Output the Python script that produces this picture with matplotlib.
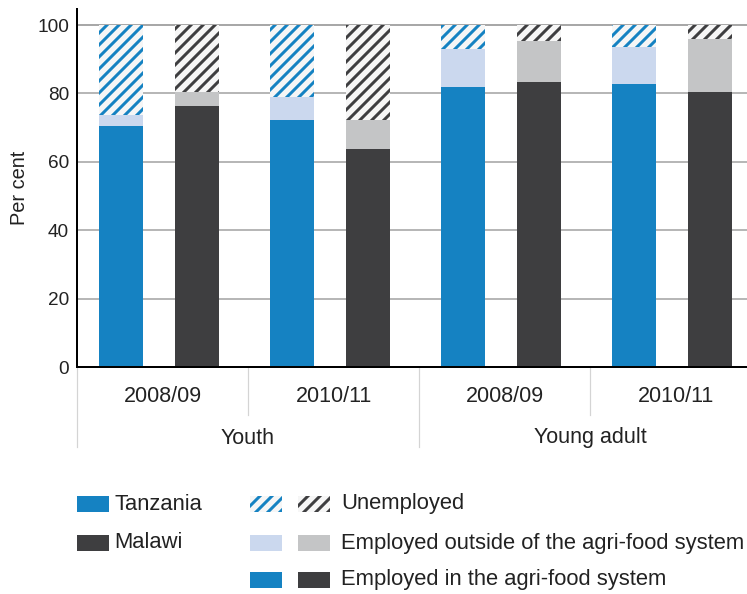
import matplotlib
matplotlib.use("Agg")
import matplotlib.pyplot as plt
from matplotlib.patches import Rectangle
import numpy as np

plt.rcParams['font.family'] = ['Liberation Sans', 'DejaVu Sans']
plt.rcParams['hatch.linewidth'] = 3.0

# ---- data ----
groups = ["Youth", "Young adult"]
periods = ["2008/09", "2010/11", "2008/09", "2010/11"]
countries = ["Tanzania", "Malawi"]
# per period (Youth 08/09, Youth 10/11, YA 08/09, YA 10/11)
tz_agri = [70.5, 72.2, 81.9, 82.7]
tz_outside = [3.2, 6.7, 11.1, 10.9]
mw_agri = [76.3, 63.7, 83.3, 80.4]
mw_outside = [4.1, 8.5, 12.0, 15.5]
tz_unemp = [100 - a - o for a, o in zip(tz_agri, tz_outside)]
mw_unemp = [100 - a - o for a, o in zip(mw_agri, mw_outside)]
yticks = [0, 20, 40, 60, 80, 100]

# ---- colors ----
TZ = "#1582c2"
TZ_LIGHT = "#cbd8ee"
MW = "#3e3e40"
MW_LIGHT = "#c4c5c6"
HATCH_BG = "#f6f6f6"
TXT = "#222222"

DPI = 72
W, H = 747, 594
fig = plt.figure(figsize=(W / DPI, H / DPI), dpi=DPI)

ax_left, ax_bottom = 77, 594 - 367
ax_top = 9
ax = fig.add_axes([ax_left / W, ax_bottom / H, (W - ax_left) / W, (367 - ax_top) / H])

x = np.arange(len(periods))
tz_x = x + 0.257
mw_x = x + 0.70
bw = 0.257

def stack(xs, agri, outside, unemp, c, cl):
    ax.bar(xs, agri, bw, color=c, linewidth=0, zorder=3)
    ax.bar(xs, outside, bw, bottom=agri, color=cl, linewidth=0, zorder=3)
    bottoms = [a + o for a, o in zip(agri, outside)]
    ax.bar(xs, unemp, bw, bottom=bottoms, facecolor=HATCH_BG, edgecolor=c,
           hatch='//', linewidth=0, zorder=3)

stack(tz_x, tz_agri, tz_outside, tz_unemp, TZ, TZ_LIGHT)
stack(mw_x, mw_agri, mw_outside, mw_unemp, MW, MW_LIGHT)

ax.set_xlim(0, (W - ax_left) / 171.0)
ax.set_ylim(0, 104.7)
ax.set_yticks(yticks)
ax.set_yticklabels([str(v) for v in yticks], fontsize=19, color=TXT)
ax.tick_params(axis='y', length=0, pad=8)
ax.set_xticks([])
for v in yticks[1:]:
    ax.axhline(v, color="#8c8c8c" if v == 100 else "#a0a0a0", lw=1.5, zorder=1)

for s in ['top', 'right']:
    ax.spines[s].set_visible(False)
ax.spines['left'].set_linewidth(2)
ax.spines['bottom'].set_linewidth(2)
ax.spines['left'].set_zorder(5)
ax.spines['bottom'].set_zorder(5)
ax.set_ylabel("Per cent", fontsize=20, color=TXT, labelpad=8)

axh = 367 - ax_top
tr = ax.get_xaxis_transform()
# period labels and separators
for i, p in enumerate(periods):
    ax.text(i + 0.5, -30 / axh, p, transform=tr, ha='center', va='center',
            fontsize=21.5, color=TXT)
for i in range(len(periods)):
    depth = 80 if i % 2 == 0 else 48
    ax.plot([i, i], [0, -depth / axh], transform=tr, color="#d4d4d4", lw=1.2,
            clip_on=False, zorder=0)
for g, name in enumerate(groups):
    ax.text(2 * g + 1.0, -71 / axh, name, transform=tr, ha='center', va='center',
            fontsize=21.5, color=TXT)

# ---- legend ----
def fx(px):
    return px / W

def fy(py):
    return 1 - py / H

def patch(x0, yc, color, hatch=None, edge=None):
    r = Rectangle((fx(x0), fy(yc + 8)), 32 / W, 16 / H, transform=fig.transFigure,
                  facecolor=color, edgecolor=edge if edge else color,
                  hatch=hatch, linewidth=0)
    fig.patches.append(r)

rows = [504, 543, 580]
patch(77, rows[0], TZ)
fig.text(fx(114), fy(rows[0]), countries[0], fontsize=22, va='center', color=TXT)
patch(77, rows[1], MW)
fig.text(fx(114), fy(rows[1]), countries[1], fontsize=22, va='center', color=TXT)

patch(250, rows[0], HATCH_BG, hatch='//', edge=TZ)
patch(298, rows[0], HATCH_BG, hatch='//', edge=MW)
patch(250, rows[1], TZ_LIGHT)
patch(298, rows[1], MW_LIGHT)
patch(250, rows[2], TZ)
patch(298, rows[2], MW)
labels = ["Unemployed", "Employed outside of the agri-food system",
          "Employed in the agri-food system"]
for yc, lab in zip(rows, labels):
    fig.text(fx(341), fy(yc), lab, fontsize=22, va='center', color=TXT)

fig.savefig("out.png", dpi=DPI)
